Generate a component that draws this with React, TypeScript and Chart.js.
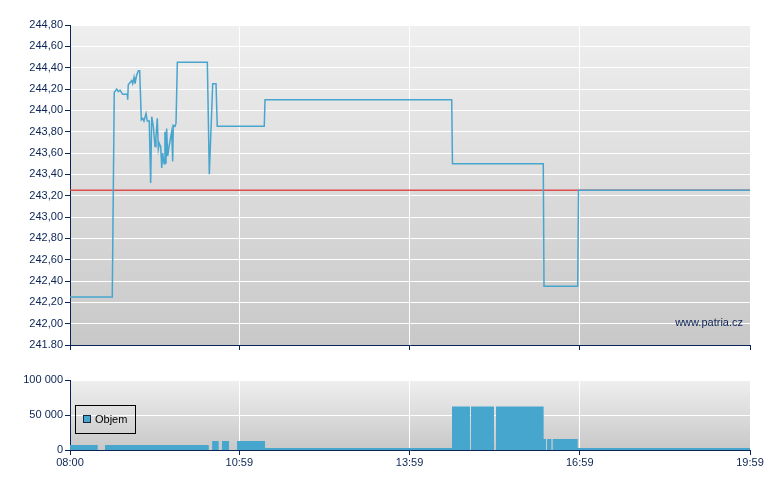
import React, { useEffect, useRef } from "react";
import { Chart, registerables } from "chart.js";

Chart.register(...registerables);

// minutes after 08:00
const priceTimes = [
  0, 44.7, 46.8, 49.4, 51.1, 52.9, 55.7, 60.6, 61.0, 61.6,
  65.2, 66.3, 67.7, 68.7, 70.5, 72.2, 73.7, 75.4, 76.9, 78.2,
  80.4, 81.7, 83.8, 85.3, 86.4, 88.1, 89.9, 90.9, 92.3, 93.4,
  94.4, 95.9, 97.0, 98.0, 99.4, 100.4, 101.5, 102.2, 103.3, 104.7,
  106.5, 107.5, 108.6, 109.2, 111.0, 112.1, 113.5, 145.2, 147.3, 150.9,
  154.4, 155.7, 205.4, 206.2, 403.6, 404.4, 500.4, 501.2, 536.8, 537.7,
  719,
];
const priceValues = [
  242.25, 242.25, 244.17, 244.2, 244.175, 244.19, 244.15, 244.15, 244.1, 244.24,
  244.28, 244.25, 244.31, 244.25, 244.33, 244.37, 244.37, 243.91, 243.925, 243.9,
  243.97, 243.9, 243.9, 243.32, 243.94, 243.85, 243.66, 243.75, 243.925, 243.64,
  243.69, 243.66, 243.46, 243.6, 243.5, 243.8, 243.5, 243.83, 243.57, 243.66,
  243.75, 243.8, 243.52, 243.86, 243.85, 243.88, 244.45, 244.45, 243.4, 244.25,
  244.25, 243.85, 243.85, 244.1, 244.1, 243.5, 243.5, 242.35, 242.35, 243.25,
  243.25,
];
const referencePrice = 243.25;

const volumeTimes = [
  0, 29.3, 37.0, 146.7, 150.3, 157.2, 160.7, 168.1, 176.6, 206.2,
  403.9, 422.9, 424.0, 448.3, 450.4, 500.8, 503.3, 504.4, 509.0, 510.4,
  536.8, 719,
];
const volumeValues = [
  7000, 0, 7000, 0, 12900, 0, 12900, 0, 12900, 3000,
  62000, 0, 62000, 0, 62000, 15700, 0, 15700, 0, 15700,
  3000, 3000,
];

const xTickMinutes = [0, 179, 359, 539, 719];
const xTickLabels = ["08:00", "10:59", "13:59", "16:59", "19:59"];
const priceTickValues = [241.8, 242.0, 242.2, 242.4, 242.6, 242.8, 243.0, 243.2, 243.4, 243.6, 243.8, 244.0, 244.2, 244.4, 244.6, 244.8];
const priceTickLabels = ["241.80", "242,00", "242,20", "242,40", "242,60", "242,80", "243,00", "243,20", "243,40", "243,60", "243,80", "244,00", "244,20", "244,40", "244,60", "244,80"];
const volumeTickValues = [0, 50000, 100000];
const volumeTickLabels = ["0", "50 000", "100 000"];

const NAVY = "#0b2455";
const FONT = { family: "'Liberation Sans', Arial, sans-serif", size: 11 };
const BLUE = "rgb(72,165,206)";

const bgPlugin = {
  id: "bgGradient",
  beforeDraw(chart: any) {
    const { ctx, chartArea } = chart;
    if (!chartArea) return;
    const { left, top, right, bottom } = chartArea;
    const g = ctx.createLinearGradient(0, top, 0, bottom);
    g.addColorStop(0, "#efefef");
    g.addColorStop(1, "#c8c8c8");
    ctx.save();
    ctx.fillStyle = g;
    ctx.fillRect(left, top, right - left, bottom - top);
    ctx.restore();
  },
};

const watermarkPlugin = {
  id: "watermark",
  afterDatasetsDraw(chart: any) {
    const { ctx, chartArea } = chart;
    ctx.save();
    ctx.font = "11px 'Liberation Sans', Arial, sans-serif";
    ctx.fillStyle = NAVY;
    ctx.textAlign = "right";
    ctx.textBaseline = "middle";
    ctx.fillText("www.patria.cz", chartArea.right - 7, chartArea.bottom - 22);
    ctx.restore();
  },
};

function xScale(showLabels: boolean, height: number) {
  return {
    type: "linear",
    min: 0,
    max: 719,
    afterBuildTicks: (s: any) => {
      s.ticks = xTickMinutes.map((v) => ({ value: v }));
    },
    afterFit: (s: any) => {
      s.height = height;
    },
    ticks: {
      autoSkip: false,
      maxRotation: 0,
      color: NAVY,
      font: FONT,
      padding: 1,
      callback: (_v: any, i: number) => (showLabels ? xTickLabels[i] : ""),
    },
    grid: { color: "#ffffff", lineWidth: 1, tickColor: NAVY, tickLength: 5, drawTicks: true },
    border: { color: NAVY, width: 1 },
  };
}

export default function App() {
  const topRef = useRef<HTMLCanvasElement>(null);
  const botRef = useRef<HTMLCanvasElement>(null);

  useEffect(() => {
    const top = new Chart(topRef.current as HTMLCanvasElement, {
      type: "line",
      data: {
        datasets: [
          {
            data: priceTimes.map((t, i) => ({ x: t, y: priceValues[i] })),
            borderColor: BLUE,
            borderWidth: 1.5,
            pointRadius: 0,
            tension: 0,
            fill: false,
          },
          {
            data: [
              { x: 0, y: referencePrice },
              { x: 719, y: referencePrice },
            ],
            borderColor: "rgba(222,60,60,0.9)",
            borderWidth: 1.5,
            pointRadius: 0,
            fill: false,
          },
        ],
      },
      options: {
        responsive: false,
        animation: false,
        events: [],
        layout: { padding: { left: 0, right: 30, top: 25, bottom: 0 } },
        plugins: { legend: { display: false }, tooltip: { enabled: false } },
        scales: {
          x: xScale(false, 15) as any,
          y: {
            min: 241.8,
            max: 244.8,
            afterBuildTicks: (s: any) => {
              s.ticks = priceTickValues.map((v) => ({ value: v }));
            },
            afterFit: (s: any) => {
              s.width = 70;
            },
            ticks: {
              color: NAVY,
              font: FONT,
              padding: 2,
              autoSkip: false,
              callback: (_v: any, i: number) => priceTickLabels[i],
            },
            grid: { color: "#ffffff", lineWidth: 1, tickColor: NAVY, tickLength: 5 },
            border: { color: NAVY, width: 1 },
          },
        },
      },
      plugins: [bgPlugin, watermarkPlugin],
    } as any);

    const bot = new Chart(botRef.current as HTMLCanvasElement, {
      type: "line",
      data: {
        datasets: [
          {
            data: volumeTimes.map((t, i) => ({ x: t, y: volumeValues[i] })),
            stepped: "before",
            borderWidth: 0,
            borderColor: "rgba(0,0,0,0)",
            backgroundColor: "rgb(70,166,206)",
            pointRadius: 0,
            fill: "origin",
          },
        ],
      },
      options: {
        responsive: false,
        animation: false,
        events: [],
        layout: { padding: { left: 0, right: 30, top: 20, bottom: 0 } },
        plugins: { legend: { display: false }, tooltip: { enabled: false } },
        scales: {
          x: xScale(true, 40) as any,
          y: {
            min: 0,
            max: 100000,
            afterBuildTicks: (s: any) => {
              s.ticks = volumeTickValues.map((v) => ({ value: v }));
            },
            afterFit: (s: any) => {
              s.width = 70;
            },
            ticks: {
              color: NAVY,
              font: FONT,
              padding: 2,
              autoSkip: false,
              callback: (_v: any, i: number) => volumeTickLabels[i],
            },
            grid: { color: "#ffffff", lineWidth: 1, tickColor: NAVY, tickLength: 5 },
            border: { color: NAVY, width: 1 },
          },
        },
      },
      plugins: [bgPlugin],
    } as any);

    return () => {
      top.destroy();
      bot.destroy();
    };
  }, []);

  return (
    <div style={{ position: "absolute", left: 0, top: 0, width: 780, height: 490, background: "#fff" }}>
      <canvas ref={topRef} width={780} height={360} style={{ position: "absolute", left: 0, top: 0 }} />
      <canvas ref={botRef} width={780} height={130} style={{ position: "absolute", left: 0, top: 360 }} />
      <div
        style={{
          position: "absolute",
          left: 75,
          top: 405,
          width: 61,
          height: 29,
          boxSizing: "border-box",
          border: "1px solid #000",
          fontFamily: "'Liberation Sans', Arial, sans-serif",
          fontSize: 11,
          color: "#000",
        }}
      >
        <div
          style={{
            position: "absolute",
            left: 7,
            top: 9,
            width: 8,
            height: 8,
            boxSizing: "border-box",
            background: "rgb(70,166,206)",
            border: "1px solid #1a2a3a",
          }}
        />
        <div style={{ position: "absolute", left: 19, top: 7, lineHeight: "13px" }}>Objem</div>
      </div>
    </div>
  );
}
